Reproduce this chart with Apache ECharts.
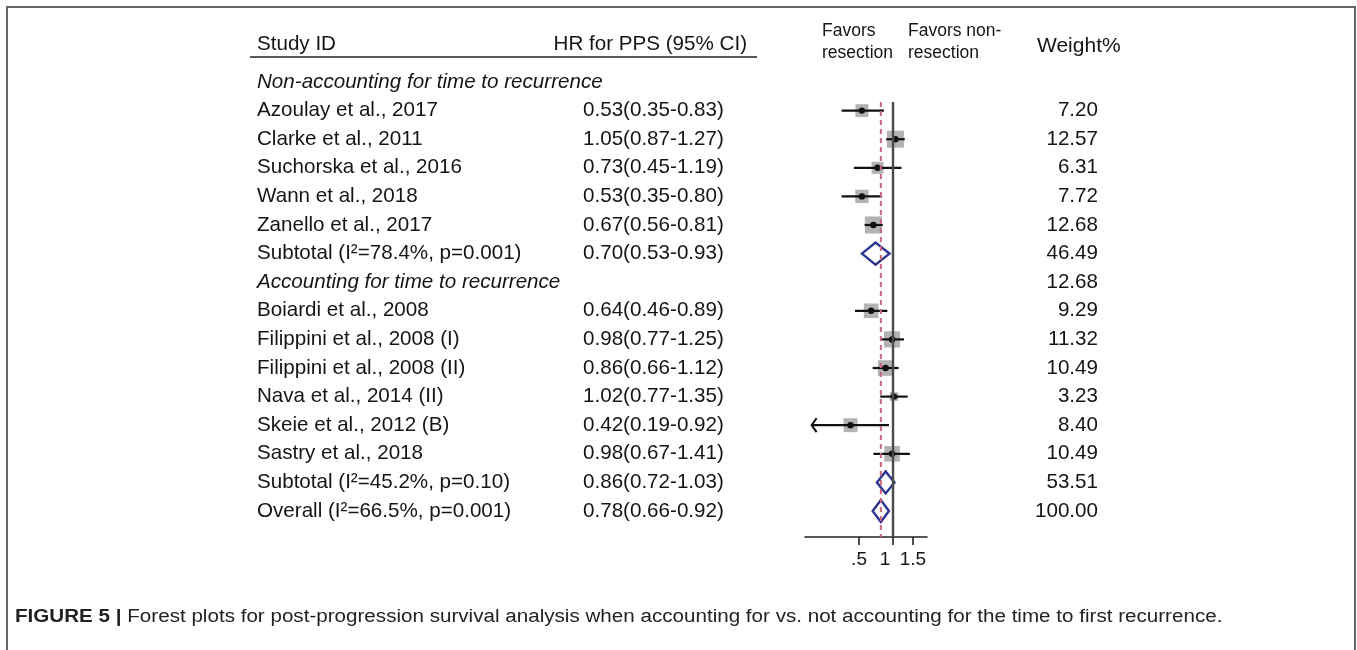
<!DOCTYPE html>
<html><head><meta charset="utf-8">
<script src="https://cdn.jsdelivr.net/npm/echarts@6/dist/echarts.min.js"></script>
<style>html,body{margin:0;padding:0;background:#fff;}#c{width:1357px;height:650px;}</style>
</head><body><div id="c"></div>
<script>
// ---- data ----
const rowLabels = [
  'Non-accounting for time to recurrence',
  'Azoulay et al., 2017','Clarke et al., 2011','Suchorska et al., 2016','Wann et al., 2018','Zanello et al., 2017',
  'Subtotal (I\u00b2=78.4%, p=0.001)',
  'Accounting for time to recurrence',
  'Boiardi et al., 2008','Filippini et al., 2008 (I)','Filippini et al., 2008 (II)','Nava et al., 2014 (II)','Skeie et al., 2012 (B)','Sastry et al., 2018',
  'Subtotal (I\u00b2=45.2%, p=0.10)',
  'Overall (I\u00b2=66.5%, p=0.001)'
];
const rowKinds = ['group','study','study','study','study','study','pooled','group','study','study','study','study','study','study','pooled','pooled'];
const hrValues = [null,0.53,1.05,0.73,0.53,0.67,0.70,null,0.64,0.98,0.86,1.02,0.42,0.98,0.86,0.78];
const ciLow    = [null,0.35,0.87,0.45,0.35,0.56,0.53,null,0.46,0.77,0.66,0.77,0.19,0.67,0.72,0.66];
const ciHigh   = [null,0.83,1.27,1.19,0.80,0.81,0.93,null,0.89,1.25,1.12,1.35,0.92,1.41,1.03,0.92];
const weights  = [null,7.20,12.57,6.31,7.72,12.68,46.49,12.68,9.29,11.32,10.49,3.23,8.40,10.49,53.51,100.00];
const overallHR = 0.78;
const xTicks = [0.5, 1, 1.5];
const xTickLabels = ['.5', '1', '1.5'];
const headers = {study:'Study ID', hr:'HR for PPS (95% CI)', left:'Favors\nresection', right:'Favors non-\nresection', weight:'Weight%'};
const caption = {bold:'FIGURE 5 |', text:' Forest plots for post-progression survival analysis when accounting for vs. not accounting for the time to first recurrence.'};

// ---- helpers ----
const fmtCI = i => hrValues[i] == null ? '' : hrValues[i].toFixed(2) + '(' + ciLow[i].toFixed(2) + '-' + ciHigh[i].toFixed(2) + ')';
const fmtW = i => weights[i] == null ? '' : weights[i].toFixed(2);
const FONT = "'Liberation Sans', Arial, Helvetica, sans-serif";
const TXT = '#151515';
const FS = 20.6;
const Y0 = 82, ROW = 28.6, AXIS_Y = 537;
const yMax = (AXIS_Y - Y0) / ROW;
const lineTop = 0.7;
const arrowLimit = 0.2;

const chart = echarts.init(document.getElementById('c'), null, {renderer: 'canvas'});
const labelText = i => rowLabels[i];

function textSeries(xPos, getText, align) {
  return {
    type: 'custom', xAxisIndex: 1, yAxisIndex: 1, silent: true, clip: false,
    data: rowLabels.map((_, i) => [xPos, i]),
    encode: {x: 0, y: 1},
    renderItem(params, api) {
      const i = params.dataIndex;
      const t = getText(i);
      if (!t) return null;
      const p = api.coord([xPos, i]);
      return {type: 'text', x: p[0], y: p[1], style: {
        text: t, fill: TXT, align: align, verticalAlign: 'middle',
        font: (rowKinds[i] === 'group' && getText === labelText ? 'italic ' : '') + FS + 'px ' + FONT
      }};
    }
  };
}

const markRows = rowLabels.map((_, i) => i).filter(i => hrValues[i] != null);

const option = {
  animation: false,
  backgroundColor: '#fff',
  grid: [
    {left: 805, width: 122, top: Y0, height: AXIS_Y - Y0, containLabel: false},
    {left: 0, right: 0, top: Y0, height: AXIS_Y - Y0, containLabel: false}
  ],
  xAxis: [
    {type: 'log', logBase: 10, gridIndex: 0, min: 0.166, max: 2.0, position: 'bottom',
     axisLine: {show: true, onZero: false, lineStyle: {color: '#222', width: 1.6}},
     axisTick: {show: true, inside: false, length: 8, customValues: xTicks, lineStyle: {color: '#222', width: 1.6}},
     axisLabel: {show: true, customValues: xTicks, margin: 13, fontSize: 19, fontFamily: FONT, color: TXT,
       rich: {one: {fontSize: 19, fontFamily: FONT, color: TXT, padding: [0, 16, 0, 0]}},
       formatter: v => { const k = xTicks.findIndex(t => Math.abs(t - v) < 1e-6); if (k < 0) return ''; return xTicks[k] === 1 ? '{one|' + xTickLabels[k] + '}' : xTickLabels[k]; }},
     splitLine: {show: false}, minorTick: {show: false}, minorSplitLine: {show: false}},
    {type: 'value', gridIndex: 1, min: 0, max: 1357, show: false}
  ],
  yAxis: [
    {type: 'value', gridIndex: 0, min: 0, max: yMax, inverse: true, show: false},
    {type: 'value', gridIndex: 1, min: 0, max: yMax, inverse: true, show: false}
  ],
  series: [
    {type: 'line', xAxisIndex: 0, yAxisIndex: 0, symbol: 'none', silent: true,
     data: [[1, lineTop], [1, yMax]], lineStyle: {color: '#4a4a4a', width: 2.4}},
    {type: 'line', xAxisIndex: 0, yAxisIndex: 0, symbol: 'none', silent: true,
     data: [[overallHR, lineTop], [overallHR, yMax]], lineStyle: {color: '#c9687a', width: 2, type: [5, 4]}},
    {type: 'custom', xAxisIndex: 0, yAxisIndex: 0, silent: true, clip: false,
     data: markRows.map(i => [hrValues[i], i]),
     encode: {x: 0, y: 1},
     renderItem(params, api) {
       const i = markRows[params.dataIndex];
       const c = api.coord([hrValues[i], i]);
       const l = api.coord([ciLow[i], i]);
       const h = api.coord([ciHigh[i], i]);
       if (rowKinds[i] === 'pooled') {
         const hh = 11;
         return {type: 'polygon', shape: {points: [[l[0], c[1]], [c[0], c[1] - hh], [h[0], c[1]], [c[0], c[1] + hh]]},
                 style: {fill: 'rgba(255,255,255,0)', stroke: '#2b3590', lineWidth: 2.4}};
       }
       const s = 4.8 * Math.sqrt(weights[i]);
       const children = [
         {type: 'rect', shape: {x: c[0] - s / 2, y: c[1] - s / 2, width: s, height: s}, style: {fill: '#b3b3b3'}},
         {type: 'line', shape: {x1: l[0], y1: c[1], x2: h[0], y2: c[1]}, style: {stroke: '#111', lineWidth: 2.2}},
         {type: 'circle', shape: {cx: c[0], cy: c[1], r: 3.2}, style: {fill: '#111'}}
       ];
       if (ciLow[i] < arrowLimit) {
         children.push({type: 'polyline', shape: {points: [[l[0] + 5, c[1] - 7], [l[0], c[1]], [l[0] + 5, c[1] + 7]]},
                        style: {stroke: '#111', lineWidth: 2, fill: null}});
       }
       return {type: 'group', children};
     }},
    textSeries(257, labelText, 'left'),
    textSeries(583, fmtCI, 'left'),
    textSeries(1098, fmtW, 'right')
  ],
  graphic: [
    {type: 'polyline', silent: true, shape: {points: [[7, 700], [7, 7], [1355, 7], [1355, 700]]},
     style: {stroke: '#666', lineWidth: 2, fill: null}},
    {type: 'text', x: 257, y: 44, style: {text: headers.study, font: FS + 'px ' + FONT, fill: TXT, verticalAlign: 'middle', align: 'left'}},
    {type: 'text', x: 747, y: 44, style: {text: headers.hr, font: FS + 'px ' + FONT, fill: TXT, verticalAlign: 'middle', align: 'left'.replace('left','right')}},
    {type: 'text', x: 822, y: 42, style: {text: headers.left, font: '17.5px ' + FONT, fill: TXT, verticalAlign: 'middle', align: 'left', lineHeight: 22}},
    {type: 'text', x: 908, y: 42, style: {text: headers.right, font: '17.5px ' + FONT, fill: TXT, verticalAlign: 'middle', align: 'left', lineHeight: 22}},
    {type: 'text', x: 1037, y: 46, style: {text: headers.weight, font: '21px ' + FONT, fill: TXT, verticalAlign: 'middle', align: 'left'}},
    {type: 'line', silent: true, shape: {x1: 250, y1: 57, x2: 757, y2: 57}, style: {stroke: '#222', lineWidth: 1.6}},
    {type: 'text', x: 15, y: 617, scaleX: 1.145, style: {
      text: '{b|' + caption.bold + '}{r|' + caption.text + '}', verticalAlign: 'middle', align: 'left',
      rich: {b: {font: 'bold 18px ' + FONT, fill: '#222'}, r: {font: '18px ' + FONT, fill: '#222'}}}}
  ]
};
chart.setOption(option);
</script>
</body></html>
